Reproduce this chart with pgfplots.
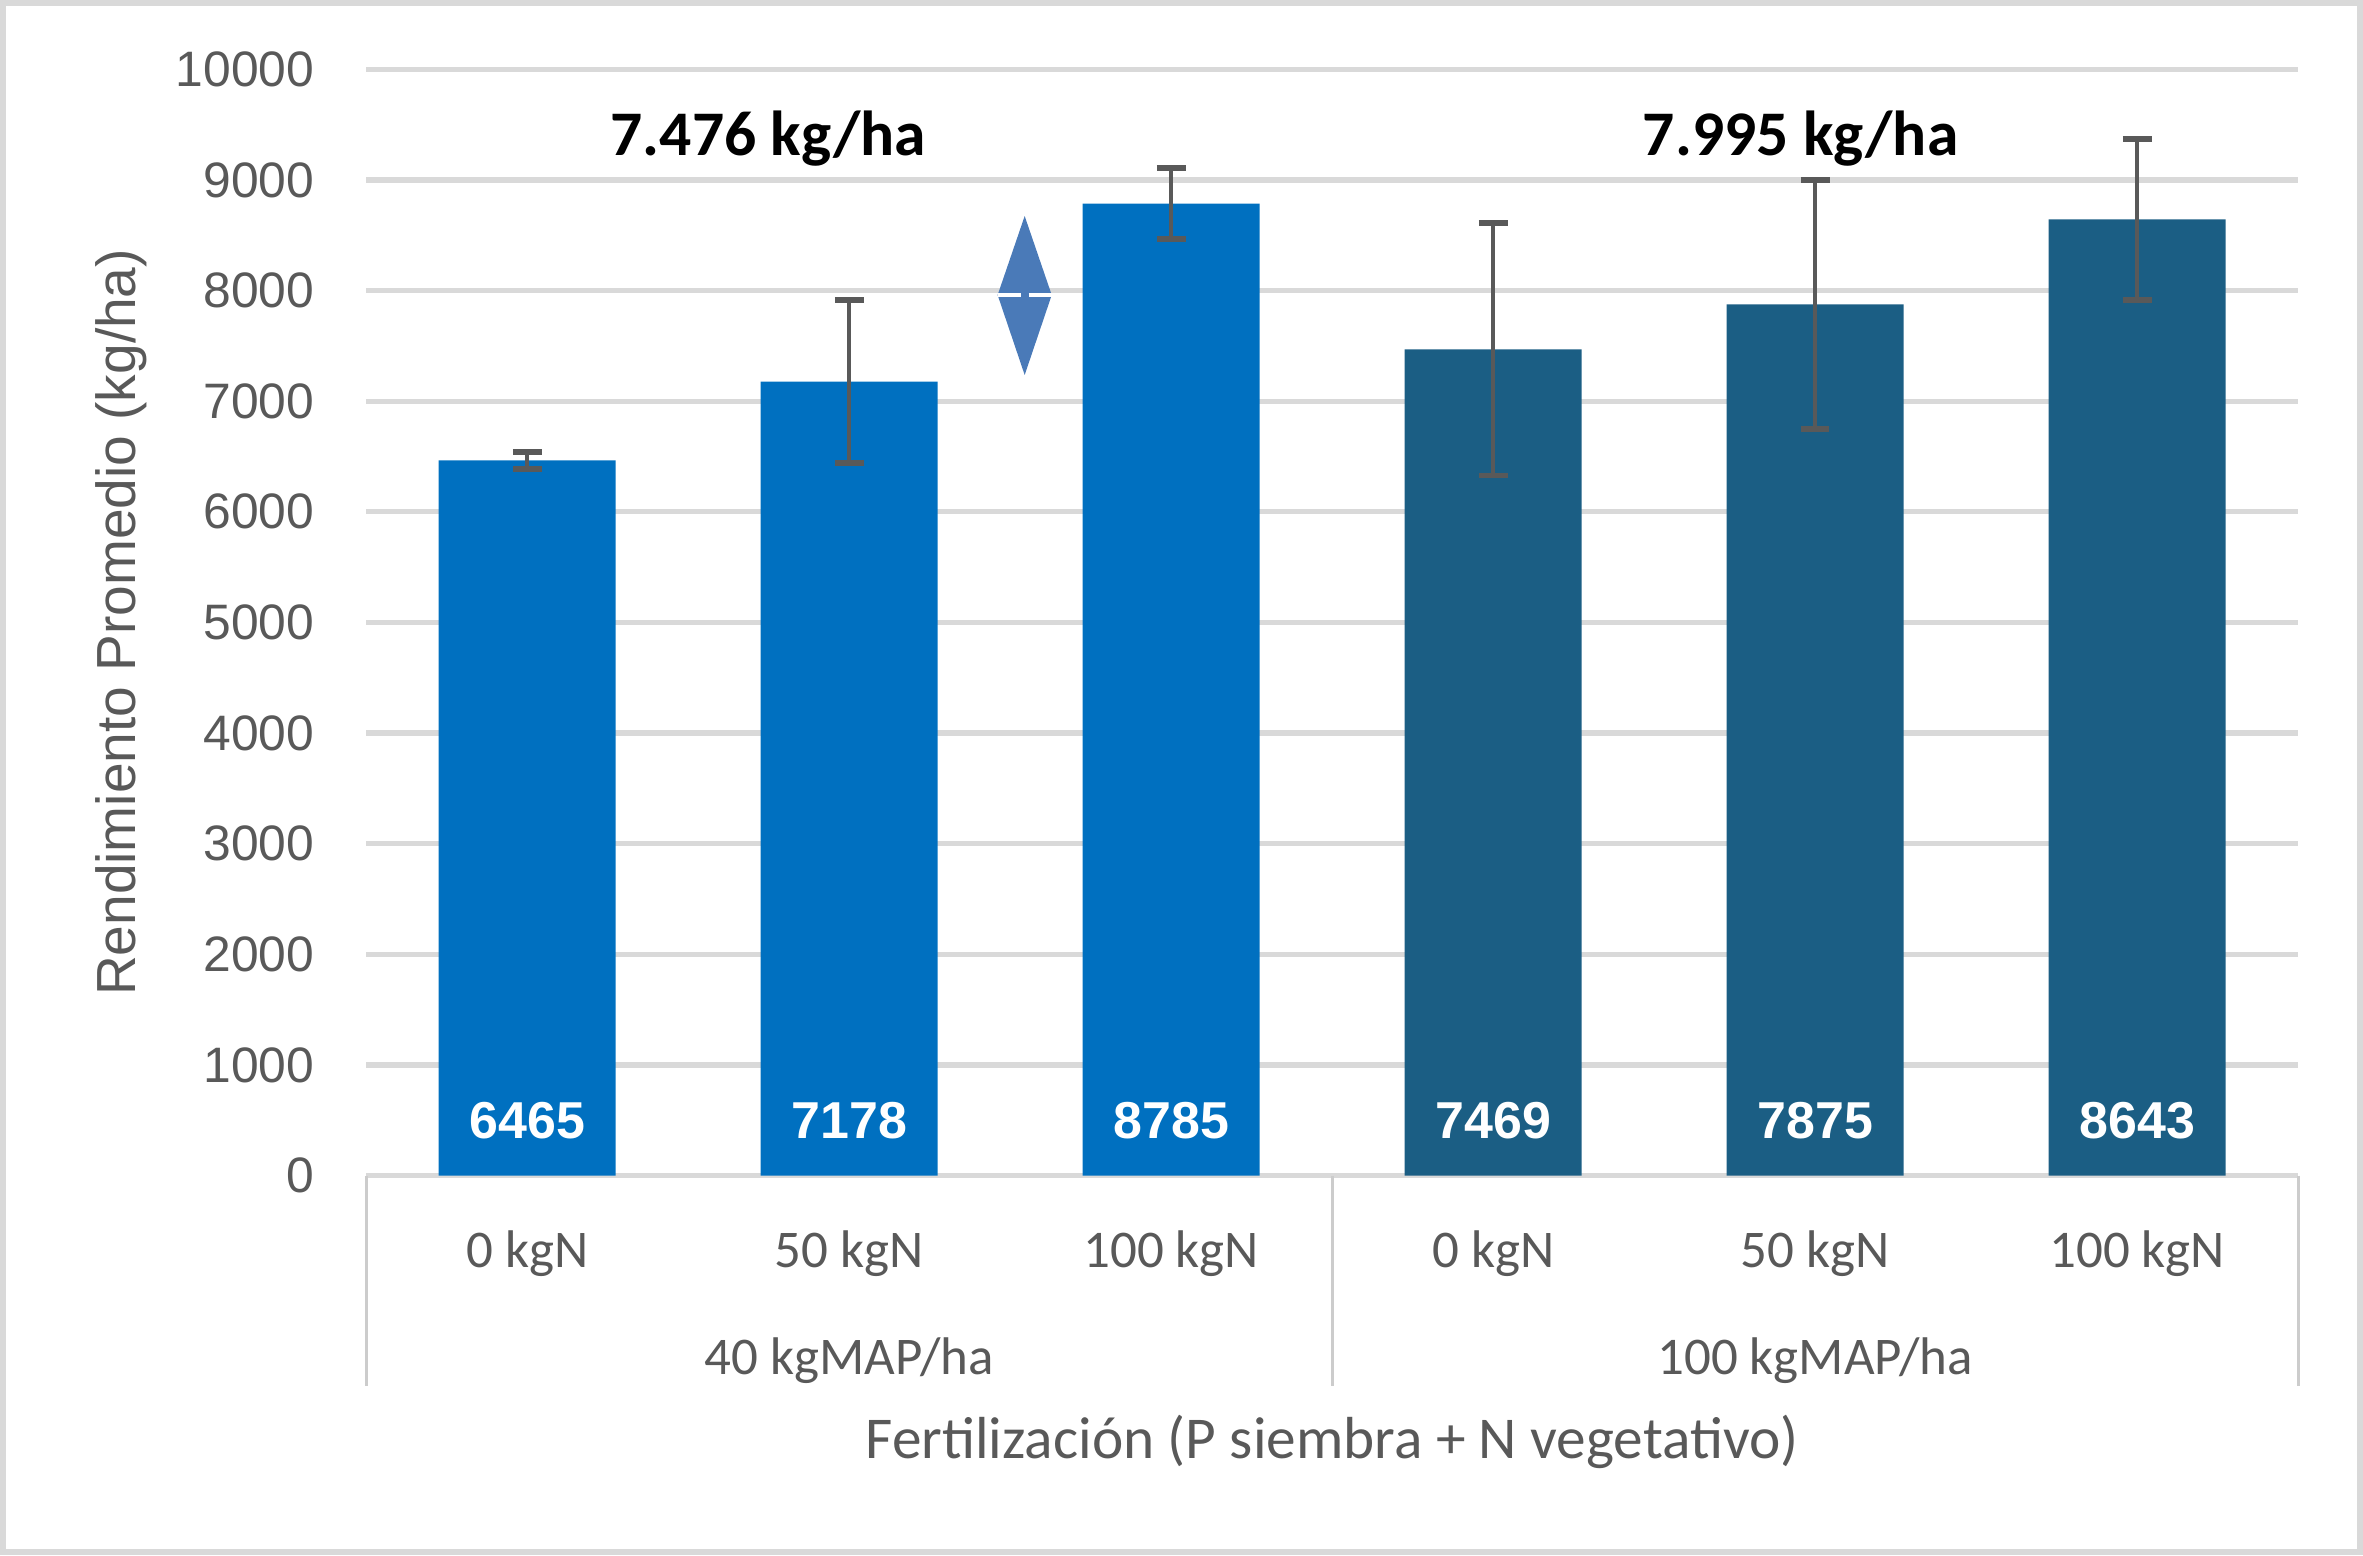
\documentclass[border=0pt]{standalone}
\usepackage{pgfplots}
\pgfplotsset{compat=1.18}
\usepackage{fontspec}
\setmainfont{Liberation Sans}
\newfontfamily\carlito{Carlito}

\definecolor{barA}{HTML}{0070C0}
\definecolor{barB}{HTML}{1B5E84}
\definecolor{errgray}{HTML}{595959}
\definecolor{txtgray}{HTML}{595959}
\definecolor{gridgray}{HTML}{D9D9D9}
\definecolor{sepgray}{HTML}{CCCCCC}
\definecolor{arrowblue}{HTML}{4A7AB8}

\begin{document}
\begin{tikzpicture}
\begin{axis}[
    at={(0,0)}, anchor=south west,
    scale only axis,
    width=128.2mm, height=73.4mm,
    xmin=-0.5, xmax=5.5,
    ymin=0, ymax=10000,
    ytick={0,1000,...,10000},
    xtick={0,...,5},
    xticklabels={0 kgN, 50 kgN, 100 kgN, 0 kgN, 50 kgN, 100 kgN},
    major tick length=0pt,
    axis line style={draw=none},
    ymajorgrids,
    grid style={gridgray, line width=1pt},
    scaled y ticks=false,
    /pgf/number format/assume math mode=true,
    /pgf/number format/1000 sep={},
    yticklabel style={font=\fontsize{9.4}{11}\selectfont, text=txtgray, anchor=east, xshift=-2.2mm},
    xticklabel style={font=\carlito\fontsize{10}{12}\selectfont, text=txtgray, anchor=base, yshift=-6.1mm},
    ylabel={Rendimiento Promedio (kg/ha)},
    ylabel style={at={(axis description cs:-0.127,0.5)}, anchor=center, rotate=0,
                  font=\fontsize{10.4}{12}\selectfont, text=txtgray},
    xlabel={Fertilización (P siembra + N vegetativo)},
    xlabel style={at={(axis description cs:0.5,0)}, anchor=base, yshift=-18.8mm,
                  font=\carlito\fontsize{11.2}{13}\selectfont, text=txtgray},
    clip=false,
    bar width=0.55,
]
% 40 kgMAP/ha
\addplot[ybar, bar shift=0pt, fill=barA, draw=none,
    error bars/.cd, y dir=both, y explicit,
    error bar style={errgray, line width=0.85pt},
    error mark options={errgray, line width=1.1pt, rotate=90, mark size=0.95mm}]
coordinates {
    (0,6465) +- (0,75)
    (1,7178) +- (0,735)
    (2,8785) +- (0,320)
};
% 100 kgMAP/ha
\addplot[ybar, bar shift=0pt, fill=barB, draw=none,
    error bars/.cd, y dir=both, y explicit,
    error bar style={errgray, line width=0.85pt},
    error mark options={errgray, line width=1.1pt, rotate=90, mark size=0.95mm}]
coordinates {
    (3,7469) +- (0,1140)
    (4,7875) +- (0,1125)
    (5,8643) +- (0,725)
};
% value labels inside the bars
\addplot[draw=none, mark=none, point meta=explicit symbolic,
    nodes near coords, nodes near coords align=center,
    every node near coord/.append style={text=white, font=\bfseries\fontsize{9.8}{11}\selectfont}]
coordinates {
    (0,500) [6465]
    (1,500) [7178]
    (2,500) [8785]
    (3,500) [7469]
    (4,500) [7875]
    (5,500) [8643]
};

% group averages
\node[font=\carlito\bfseries\fontsize{12}{14}\selectfont] at (axis cs:0.749,9373) {7.476 kg/ha};
\node[font=\carlito\bfseries\fontsize{12}{14}\selectfont] at (axis cs:3.955,9373) {7.995 kg/ha};

% double arrow between the two group means
\fill[arrowblue] (axis cs:1.461,7960) -- (axis cs:1.629,7960) -- (axis cs:1.545,8674) -- cycle;
\fill[arrowblue] (axis cs:1.461,7960) -- (axis cs:1.629,7960) -- (axis cs:1.545,7237) -- cycle;
\draw[white, line width=0.6pt] (axis cs:1.461,7960) -- (axis cs:1.533,7960);
\draw[white, line width=0.6pt] (axis cs:1.557,7960) -- (axis cs:1.629,7960);

% category separators and group labels
\draw[sepgray, line width=0.6pt] (rel axis cs:0,0) -- ([yshift=-14mm]rel axis cs:0,0);
\draw[sepgray, line width=0.6pt] (axis cs:2.5,0) -- ([yshift=-14mm]axis cs:2.5,0);
\draw[sepgray, line width=0.6pt] (rel axis cs:1,0) -- ([yshift=-14mm]rel axis cs:1,0);
\node[anchor=base, font=\carlito\fontsize{10}{12}\selectfont, text=txtgray]
    at ([yshift=-13.2mm]axis cs:1,0) {40 kgMAP/ha};
\node[anchor=base, font=\carlito\fontsize{10}{12}\selectfont, text=txtgray]
    at ([yshift=-13.2mm]axis cs:4,0) {100 kgMAP/ha};
\end{axis}
\draw[gridgray, line width=0.4mm] (-24.1mm,-25.0mm) rectangle (132.3mm,77.8mm);
\pgfresetboundingbox
\useasboundingbox (-24.3mm,-25.2mm) rectangle (132.5mm,78.0mm);
\end{tikzpicture}
\end{document}
